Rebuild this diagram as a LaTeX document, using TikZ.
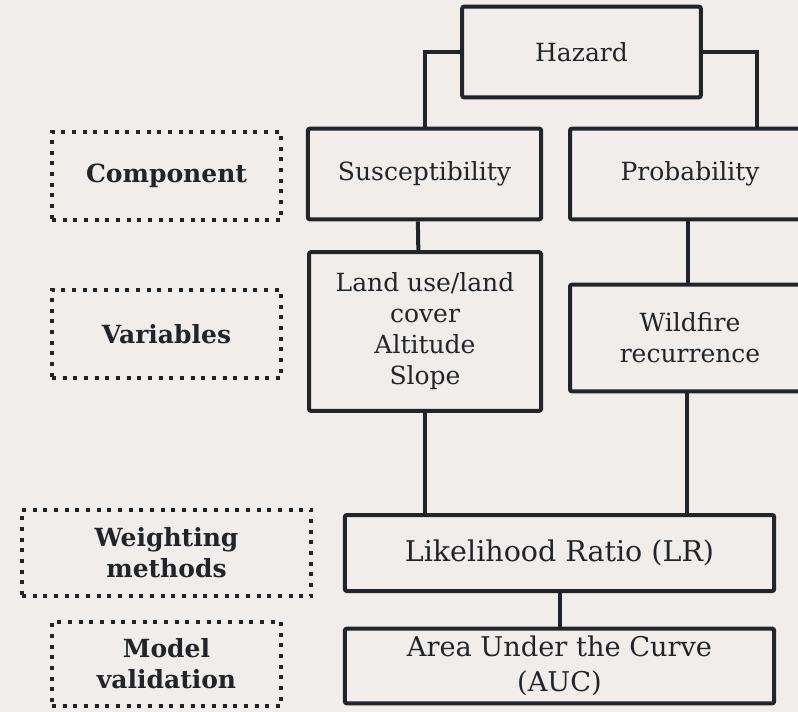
\documentclass[tikz,border=0pt]{standalone}
\usepackage{fontspec}
\setmainfont{DejaVu Serif}
\definecolor{ink}{RGB}{33,37,41}
\definecolor{paper}{RGB}{240,237,235}

\begin{document}
\begin{tikzpicture}[
			x=0.75pt, y=-0.75pt,
			every node/.style={font=\fontsize{18.75}{23.25}\selectfont, text=ink, align=center, inner sep=0pt},
			box/.style={draw=ink, line width=3pt, rounded corners=1.5pt},
			tag/.style={draw=ink, line width=3pt, dash pattern=on 3pt off 5pt, font=\fontsize{18.75}{23.25}\selectfont\bfseries},
			link/.style={draw=ink, line width=3pt}
			]
			\fill[paper] (0,0) rectangle (798,712);
			\useasboundingbox (0,0) rectangle (798,712);
			% levels on the left
			\node[tag, minimum width=172pt, minimum height=66pt] (comp) at (166.5,176) {Component};
			\node[tag, minimum width=172pt, minimum height=66pt] (vars) at (166.5,334) {Variables};
			\node[tag, minimum width=217pt, minimum height=65pt] (weight) at (166.5,553) {Weighting\\methods};
			\node[tag, minimum width=172pt, minimum height=63pt] (valid) at (166.5,664) {Model\\validation};
			% the tree
			\node[box, minimum width=179pt, minimum height=68pt] (hazard) at (581.5,52) {Hazard};
			\node[box, minimum width=175pt, minimum height=68pt] (susc) at (424.5,174) {Susceptibility};
			\node[box, minimum width=180pt, minimum height=68pt] (prob) at (690,174) {Probability};
			\node[box, minimum width=174pt, minimum height=119pt] (landuse) at (425,331.5) {Land use/land\\cover\\Altitude\\Slope};
			\node[box, minimum width=180pt, minimum height=80pt] (wildfire) at (690,338) {Wildfire\\recurrence};
			\node[box, minimum width=322pt, minimum height=57pt, font=\fontsize{21.4}{26}\selectfont] (lr) at (559.5,553) {Likelihood Ratio (LR)};
			\node[box, minimum width=322pt, minimum height=56pt, font=\fontsize{20.4}{26}\selectfont] (auc) at (559.5,666) {Area Under the Curve\\(AUC)};
			% connectors
			\draw[link] (hazard.west) -| (susc.north);
			\draw[link] (hazard.east) -| ([xshift=50.25pt]prob.north);
			\draw[link] ([xshift=-5pt]susc.south) -- ([xshift=-5pt]landuse.north);
			\draw[link] ([xshift=-1.5pt]prob.south) -- ([xshift=-1.5pt]wildfire.north);
			\draw[link] (landuse.south) -- (landuse.south |- lr.north);
			\draw[link] ([xshift=-2pt]wildfire.south) -- ([xshift=-2pt]wildfire.south |- lr.north);
			\draw[link] (lr.south) -- (auc.north);
		\end{tikzpicture}
\end{document}
